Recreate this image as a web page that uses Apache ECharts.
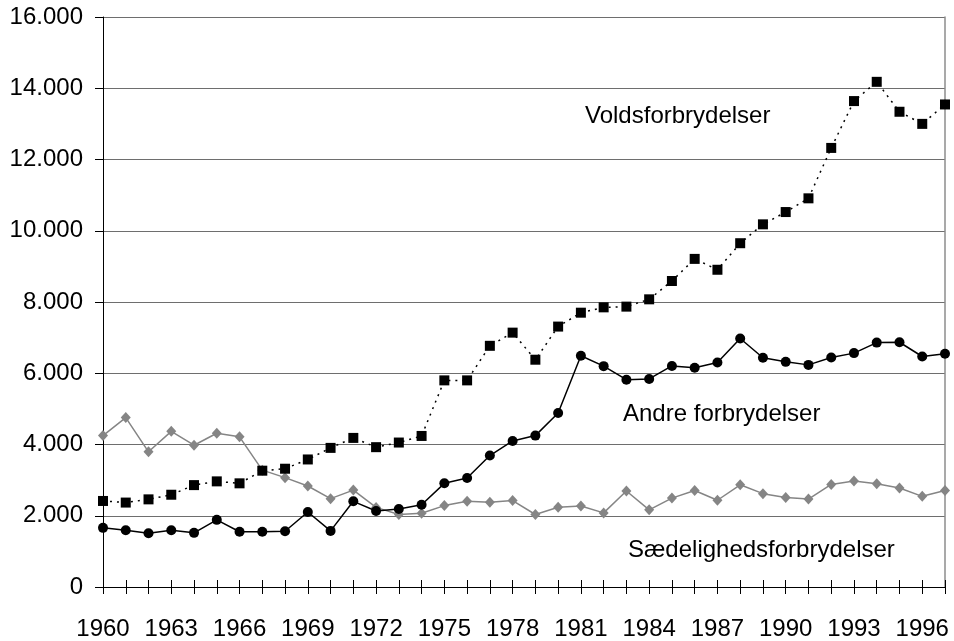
<!DOCTYPE html>
<html>
<head>
<meta charset="utf-8">
<script src="https://cdn.jsdelivr.net/npm/echarts@6/dist/echarts.min.js"></script>
<style>html,body{margin:0;padding:0;background:#fff;}#c{width:954px;height:641px;}</style>
</head>
<body>
<div id="c"></div>
<script>
var years = [1960,1961,1962,1963,1964,1965,1966,1967,1968,1969,
             1970,1971,1972,1973,1974,1975,1976,1977,1978,1979,
             1980,1981,1982,1983,1984,1985,1986,1987,1988,1989,
             1990,1991,1992,1993,1994,1995,1996,1997];
var volds = [2415,2370,2460,2590,2860,2965,2910,3265,3320,3580,
             3905,4185,3925,4055,4240,5800,5800,6770,7140,6380,
             7310,7700,7850,7870,8075,8590,9210,8905,9650,10180,
             10525,10910,12325,13640,14180,13340,13000,13545];
var andre = [1660,1595,1510,1595,1520,1885,1550,1550,1565,2105,
             1575,2405,2135,2190,2310,2910,3060,3690,4100,4250,
             4885,6490,6200,5820,5840,6205,6155,6300,6975,6435,
             6320,6235,6440,6565,6860,6870,6470,6545];
var saed = [4250,4755,3795,4370,3980,4315,4215,3280,3070,2835,
            2480,2720,2235,2035,2070,2285,2405,2380,2425,2035,
            2240,2275,2080,2695,2165,2495,2710,2435,2870,2620,
            2515,2470,2880,2975,2900,2780,2545,2710];
var seriesNames = ['Voldsforbrydelser','Andre forbrydelser','Sædelighedsforbrydelser'];
var yMin = 0, yMax = 16000, yStep = 2000;

var FONT = '"Liberation Sans", Arial, sans-serif';
var chart = echarts.init(document.getElementById('c'), null, {renderer:'canvas'});
function fmt(v){ return String(v).replace(/\B(?=(\d{3})+(?!\d))/g, '.'); }
var cats = years.map(String);
chart.setOption({
  animation:false,
  backgroundColor:'#fff',
  grid:{left:103, right:9, top:17, bottom:54, containLabel:false},
  xAxis:[{
    type:'category', data:cats, boundaryGap:false,
    axisLine:{lineStyle:{color:'#000', width:1}},
    axisTick:{show:true, interval:0, length:7, lineStyle:{color:'#000'}},
    axisLabel:{interval:function(i){return i%3===0;}, margin:30, color:'#000', fontSize:24, fontFamily:FONT},
    splitLine:{show:false}
  },{
    type:'category', data:cats, boundaryGap:false, position:'bottom',
    axisLine:{show:false},
    axisTick:{show:true, inside:true, interval:0, length:7, lineStyle:{color:'#000'}},
    axisLabel:{show:false}, splitLine:{show:false}
  }],
  yAxis:[{
    type:'value', min:yMin, max:yMax, interval:yStep,
    axisLine:{show:true, lineStyle:{color:'#000', width:1}},
    axisTick:{show:true, length:8, lineStyle:{color:'#000'}},
    axisLabel:{formatter:fmt, margin:20, color:'#000', fontSize:24, fontFamily:FONT},
    splitLine:{show:true, lineStyle:{color:'#6e6e6e', width:1}}
  },{
    type:'value', min:yMin, max:yMax, interval:yStep, position:'right',
    axisLine:{show:true, lineStyle:{color:'#8c8c8c', width:1.5}},
    axisTick:{show:false}, axisLabel:{show:false}, splitLine:{show:false}
  }],
  series:[{
    name:seriesNames[2], type:'line', data:saed, symbol:'diamond', symbolSize:[10,11],
    itemStyle:{color:'#858585'}, lineStyle:{color:'#858585', width:1.5}, z:2
  },{
    name:seriesNames[0], type:'line', data:volds, symbol:'rect', symbolSize:10,
    itemStyle:{color:'#000'}, lineStyle:{color:'#000', width:1.5, type:[2,5]}, z:3
  },{
    name:seriesNames[1], type:'line', data:andre, symbol:'circle', symbolSize:10,
    itemStyle:{color:'#000'}, lineStyle:{color:'#000', width:1.5}, z:4
  }],
  graphic:[
    {type:'text', left:585, top:104, style:{text:seriesNames[0], font:'24px '+FONT, fill:'#000'}},
    {type:'text', left:623, top:402, style:{text:seriesNames[1], font:'24px '+FONT, fill:'#000'}},
    {type:'text', left:628, top:538, style:{text:seriesNames[2], font:'24px '+FONT, fill:'#000'}}
  ]
});
</script>
</body>
</html>
